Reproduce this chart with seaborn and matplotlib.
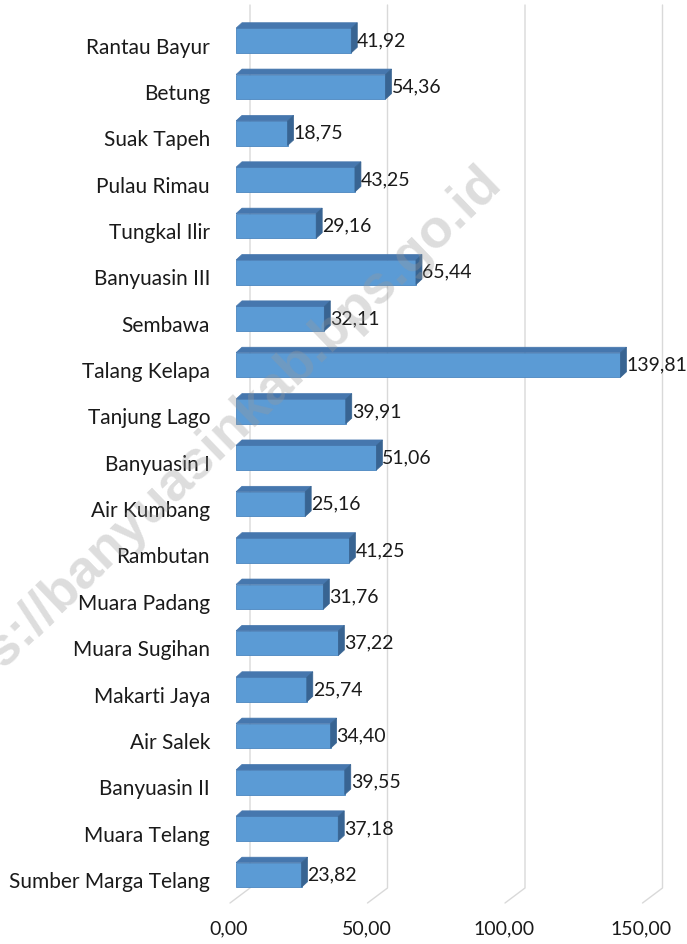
import matplotlib
matplotlib.use('Agg')
import matplotlib.pyplot as plt
import seaborn as sns
import pandas as pd
from matplotlib.patches import Polygon
from matplotlib.transforms import ScaledTranslation

districts = ["Rantau Bayur", "Betung", "Suak Tapeh", "Pulau Rimau", "Tungkal Ilir",
             "Banyuasin III", "Sembawa", "Talang Kelapa", "Tanjung Lago", "Banyuasin I",
             "Air Kumbang", "Rambutan", "Muara Padang", "Muara Sugihan", "Makarti Jaya",
             "Air Salek", "Banyuasin II", "Muara Telang", "Sumber Marga Telang"]
values = [41.92, 54.36, 18.75, 43.25, 29.16, 65.44, 32.11, 139.81, 39.91, 51.06,
          25.16, 41.25, 31.76, 37.22, 25.74, 34.40, 39.55, 37.18, 23.82]
xticks = [0, 50, 100, 150]
xtick_labels = ["0,00", "50,00", "100,00", "150,00"]

sns.set_theme(style="white")
plt.rcParams['font.family'] = ['Lato', 'DejaVu Sans']

W, H = 687, 944
DPI = 100
fig = plt.figure(figsize=(W / DPI, H / DPI), dpi=DPI)

px_per_unit = 2.75
xmax = 155
row_px = 46.36
first_center = 40.5
y_top_px, y_bot_px = 5, 903
ymin_d = (y_top_px - first_center) / row_px
ymax_d = (y_bot_px - first_center) / row_px
y_back_d = (888 - first_center) / row_px

ax = fig.add_axes([236 / W, 1 - y_bot_px / H, xmax * px_per_unit / W, (y_bot_px - y_top_px) / H])

df = pd.DataFrame({"Kecamatan": districts, "Nilai": values})
sns.barplot(data=df, y="Kecamatan", x="Nilai", orient="h", color="#5B9BD5",
            saturation=1, width=0.53, edgecolor="#4A86C0", linewidth=0.6, ax=ax, zorder=3)
ax.set_xlim(0, xmax)
ax.set_ylim(ymax_d, ymin_d)

# 3D depth faces
ddx = 6 / px_per_unit
ddy = 5.5 / row_px
for p in ax.patches:
    x0, y0, w, h = p.get_x(), p.get_y(), p.get_width(), p.get_height()
    top = Polygon([(x0, y0), (x0 + ddx, y0 - ddy), (x0 + w + ddx, y0 - ddy), (x0 + w, y0)],
                  closed=True, facecolor="#4677AE", edgecolor="#4677AE", lw=0.5, zorder=3)
    side = Polygon([(x0 + w, y0), (x0 + w + ddx, y0 - ddy), (x0 + w + ddx, y0 + h - ddy), (x0 + w, y0 + h)],
                   closed=True, facecolor="#386492", edgecolor="#386492", lw=0.5, zorder=3)
    ax.add_patch(top)
    ax.add_patch(side)

# gridlines: back wall + floor
back_off = 14 / px_per_unit
front_off = -6 / px_per_unit
for v in xticks:
    ax.plot([v + back_off, v + back_off, v + front_off], [ymin_d, y_back_d, ymax_d],
            color="#D9D9D9", lw=1, zorder=1, clip_on=False)

FS = 15
FS_VAL = 14
# data labels
for cont in ax.containers:
    ax.bar_label(cont, labels=[f"{v:.2f}".replace(".", ",") for v in values],
                 padding=(ddx * px_per_unit) * 72 / DPI, fontsize=FS_VAL, color="#1a1a1a")
for t in ax.texts:
    t.set_transform(t.get_transform() + ScaledTranslation(0, -3 / DPI, fig.dpi_scale_trans))

ax.set_xticks(xticks)
ax.set_xticklabels(xtick_labels)
ax.tick_params(axis="x", length=0, pad=17 * 72 / DPI, labelsize=14, labelcolor="#1a1a1a")
ax.tick_params(axis="y", length=0, pad=26 * 72 / DPI, labelsize=FS, labelcolor="#1a1a1a")
for lab in ax.get_xticklabels():
    lab.set_transform(lab.get_transform() + ScaledTranslation(-7 / DPI, 0, fig.dpi_scale_trans))
for lab in ax.get_yticklabels():
    lab.set_transform(lab.get_transform() + ScaledTranslation(0, -5 / DPI, fig.dpi_scale_trans))
ax.set_xlabel("")
ax.set_ylabel("")
for s in ax.spines.values():
    s.set_visible(False)
ax.grid(False)

fig.text(206 / W, 1 - 451 / H, "https://banyuasinkab.bps.go.id", rotation=44,
         rotation_mode="anchor", ha="center", va="center", fontsize=39, fontweight="bold",
         color="#999999", alpha=0.33, family=["Liberation Sans", "DejaVu Sans"], zorder=10)

fig.savefig("out.png", dpi=DPI, facecolor="white")
